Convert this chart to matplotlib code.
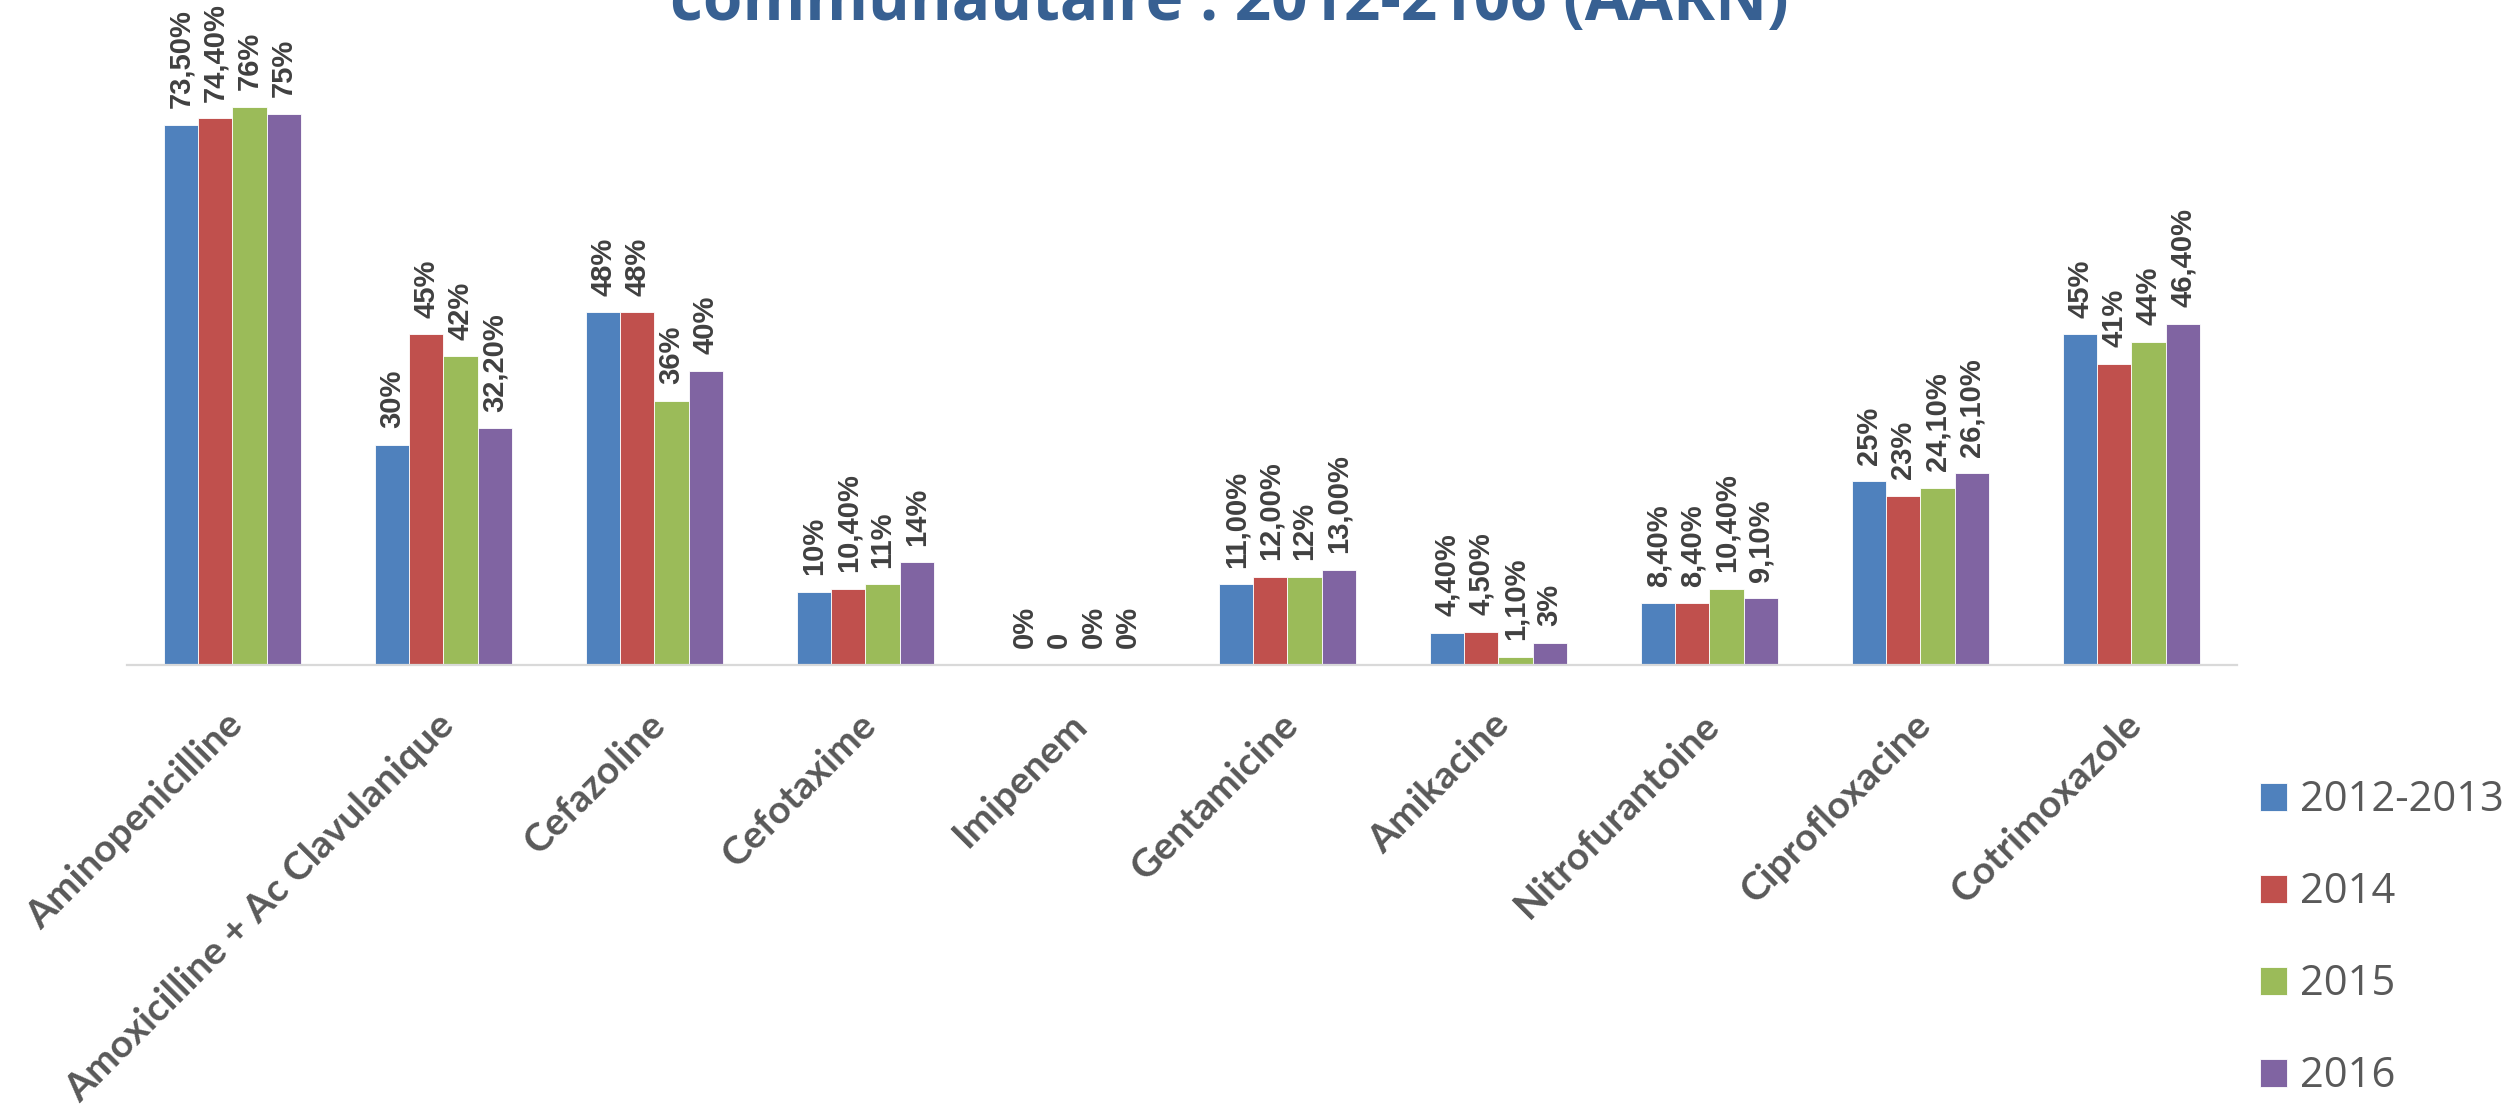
import numpy as np
import matplotlib.pyplot as plt
from matplotlib.transforms import ScaledTranslation

# Taux de résistance par antibiotique et par période
antibiotiques = ["Aminopenicilline", "Amoxicilline + Ac Clavulanique", "Cefazoline",
                 "Cefotaxime", "Imipenem", "Gentamicine", "Amikacine",
                 "Nitrofurantoine", "Ciprofloxacine", "Cotrimoxazole"]
periodes = ["2012-2013", "2014", "2015", "2016"]

v_2012_2013 = [73.5, 30, 48, 10, 0, 11.0, 4.4, 8.4, 25, 45]
v_2014 = [74.4, 45, 48, 10.4, 0, 12.0, 4.5, 8.4, 23, 41]
v_2015 = [76, 42, 36, 11, 0, 12, 1.1, 10.4, 24.1, 44]
v_2016 = [75, 32.2, 40, 14, 0, 13.0, 3, 9.1, 26.1, 46.4]

# étiquettes telles qu'affichées au-dessus des barres
lab_2012_2013 = ["73,50%", "30%", "48%", "10%", "0%", "11,00%", "4,40%", "8,40%", "25%", "45%"]
lab_2014 = ["74,40%", "45%", "48%", "10,40%", "0", "12,00%", "4,50%", "8,40%", "23%", "41%"]
lab_2015 = ["76%", "42%", "36%", "11%", "0%", "12%", "1,10%", "10,40%", "24,10%", "44%"]
lab_2016 = ["75%", "32,20%", "40%", "14%", "0%", "13,00%", "3%", "9,10%", "26,10%", "46,40%"]

couleurs = ["#4F81BD", "#C0504D", "#9BBB59", "#8064A2"]

series = [v_2012_2013, v_2014, v_2015, v_2016]
etiquettes = [lab_2012_2013, lab_2014, lab_2015, lab_2016]

fig = plt.figure(figsize=(25.14, 11.04), dpi=100)
ax = fig.add_axes([0.0505, 0.3976, 0.8393, 0.599])

x = np.arange(len(antibiotiques))
largeur = 0.162
for i, (vals, labs) in enumerate(zip(series, etiquettes)):
    pos = x + (i - 1.5) * largeur
    bars = ax.bar(pos, vals, largeur, color=couleurs[i], label=periodes[i],
                  edgecolor="white", linewidth=0.6)
    for b, txt in zip(bars, labs):
        ax.annotate(txt, (b.get_x() + b.get_width() / 2, b.get_height()),
                    xytext=(0, 12), textcoords="offset points",
                    rotation=90, ha="center", va="bottom",
                    fontsize=21, fontweight="bold", color="#404040",
                    family="Liberation Sans")

ax.set_xlim(-0.5, 9.5)
ax.set_ylim(0, 90)
ax.set_yticks([])
for s in ["top", "right", "left"]:
    ax.spines[s].set_visible(False)
ax.spines["bottom"].set_color("#D9D9D9")
ax.spines["bottom"].set_linewidth(1.6)

ax.set_xticks(x)
ax.set_xticklabels(antibiotiques, rotation=45, ha="right", rotation_mode="anchor",
                   fontsize=28, fontweight="bold", color="#595959", family="Lato")
ax.tick_params(axis="x", length=0, pad=30)
decalage = ScaledTranslation(-0.08, 0, fig.dpi_scale_trans)
for lab in ax.get_xticklabels():
    lab.set_transform(lab.get_transform() + decalage)

fig.legend(loc="upper left", bbox_to_anchor=(0.899, 0.294), frameon=False,
           prop={"family": "Open Sans", "size": 30}, labelcolor="#595959",
           handlelength=0.65, handleheight=0.65, handletextpad=0.3,
           labelspacing=1.2, borderpad=0, borderaxespad=0)

fig.text(0.489, 0.982, "communautaire : 2012-2106 (AARN)", ha="center", va="baseline",
         fontsize=46, fontweight="bold", color="#376092", family="Open Sans")

fig.savefig("out.png", dpi=100)
